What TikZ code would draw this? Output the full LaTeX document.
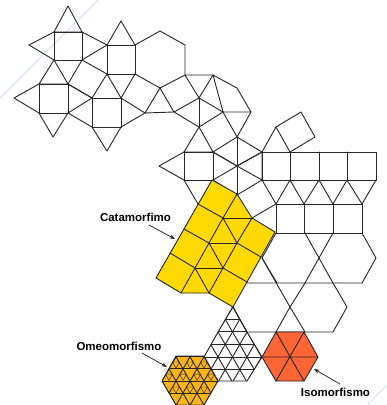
\documentclass[tikz,border=0pt]{standalone}
\usepackage{fontspec}
\setmainfont{Liberation Sans}
\usetikzlibrary{arrows.meta}
\definecolor{ink}{HTML}{262626}
\definecolor{cata}{HTML}{FFD900}
\definecolor{omeo}{HTML}{FDB515}
\definecolor{iso}{HTML}{FF6535}
\definecolor{faint}{HTML}{DCE8F6}
\tikzset{
  tile/.style={draw=ink,line width=.9pt,line join=round,line cap=round},
  fine/.style={draw=ink,line width=.45pt},
  label/.style={font=\bfseries\fontsize{11.5}{13}\selectfont,text=black,inner sep=0pt},
  pointer/.style={draw=ink,line width=.75pt,-{Stealth[length=5.5pt,width=4pt]}},
  streak/.style={draw=faint,line width=1.4pt}
}
% triangular lattice: centre x, centre y, spacing, range
\newcommand{\trilattice}[4]{%
  \pgfmathsetmacro{\hh}{#3*0.8660}
  \foreach \k in {-#4,...,#4}{
    \draw[tile] (#1-80,#2+\k*\hh) -- (#1+80,#2+\k*\hh);
    \draw[tile] (#1+\k*#3-50,#2+50*1.732) -- (#1+\k*#3+50,#2-50*1.732);
    \draw[tile] (#1+\k*#3-50,#2-50*1.732) -- (#1+\k*#3+50,#2+50*1.732);
  }}
% inner triangle of an upward triangle with apex (x,y)
\newcommand{\inner}[2]{\draw[fine] (#1-3.5,#2+6) -- (#1+3.5,#2+6) -- (#1,#2+12.1) -- cycle;}
\begin{document}
\begin{tikzpicture}[x=1pt,y=-1pt]
\useasboundingbox (0,0) rectangle (387,405);
\fill[white] (0,0) rectangle (387,405);
% faint streaks
\draw[streak] (98,0) -- (0,98);
\draw[streak] (387,385) -- (367,405);
% upper tiling
\draw[tile] (68,6) -- (54,32) -- (82,32) -- cycle;
\draw[tile] (54,32) rectangle (82,60);
\draw[tile] (54,32) -- (29,45) -- (54,60);
\draw[tile] (82,32) -- (107,45) -- (82,60);
\draw[tile] (107,45) rectangle (135,74);
\draw[tile] (107,45) -- (121,21) -- (135,45);
\draw[tile] (135,45) -- (160,31) -- (185,45) -- (185,75) -- (160,88) -- (135,74);
\draw[tile] (54,60) -- (39,84) -- (68,84) -- cycle;
\draw[tile] (68,84) -- (82,60) -- (107,74) -- (92,98) -- cycle;
\draw[tile] (39,84) rectangle (68,113);
\draw[tile] (39,84) -- (14,98) -- (39,113) -- (53,137) -- (68,113);
\draw[tile] (68,84) -- (92,98) -- (68,113) -- (92,127);
\draw[tile] (92,98) rectangle (121,127);
\draw[tile] (92,127) -- (107,151) -- (121,127);
\draw[tile] (107,74) -- (121,98) -- (135,74);
\draw[tile] (121,98) -- (145,113) -- (121,127);
\draw[tile] (145,113) -- (160,88) -- (174,112) -- cycle;
% middle
\draw[tile] (185,75) -- (213,75) -- (199,98) -- cycle;
\draw[tile] (174,112) -- (199,98) -- (223,112) -- (199,127) -- cycle;
\draw[tile] (199,98) -- (199,127);
\draw[tile] (213,75) -- (237,88) -- (251,112) -- (223,112) -- cycle;
\draw[tile] (223,112) -- (237,137) -- (251,112);
\draw[tile] (199,127) -- (184,152) -- (213,152) -- cycle;
\draw[tile] (184,152) rectangle (213,180);
\draw[tile] (184,152) -- (159,166) -- (184,180) -- (198,204);
\draw[tile] (213,152) -- (237,137) -- (262,152) -- (237,166) -- cycle;
\draw[tile] (237,137) -- (237,195);
\draw[tile] (213,180) -- (237,166) -- (262,152) -- (262,180) -- (237,166);
\draw[tile] (213,180) -- (237,195) -- (262,180);
\draw[tile] (213,152) -- (237,166);
% right block
\draw[tile] (262,152) -- (276,127) -- (290,152);
\draw[tile] (276,127) -- (301,112) -- (315,137) -- (290,152);
\draw[tile] (262,152) rectangle (376,180);
\draw[tile] (290,152) -- (290,180) (319,152) -- (319,180) (347,152) -- (347,180);
\draw[tile] (262,180) -- (276,204) -- (290,180) -- (304,204) -- (319,180) -- (333,204) -- (347,180) -- (362,204) -- (376,180);
\draw[tile] (276,204) rectangle (362,233);
\draw[tile] (304,204) -- (304,233) (333,204) -- (333,233);
\draw[tile] (252,218) -- (276,204);
% hexagons
\draw[tile] (276,233) -- (262,258) -- (277,283);
\draw[tile] (305,233) -- (319,258) -- (305,283) -- (290,307) -- (262,258);
\draw[tile] (333,233) -- (319,258) -- (333,283) -- (347,307) -- (333,332) -- (247,332) -- (233,307);
\draw[tile] (362,233) -- (376,258) -- (362,283) -- (247,283);
\draw[tile] (290,307) -- (276,332);
\draw[tile] (290,307) -- (305,332);
% catamorphism
\draw[tile,fill=cata] (212,180) -- (237,194) -- (252,218) -- (275,232) -- (233,307) -- (209,293) -- (181,293) -- (156,278) -- cycle;
\draw[tile] (237,194) -- (223,218) -- (209,243) -- (195,268) -- (181,293);
\draw[tile] (252,218) -- (237,243) -- (223,268) -- (209,293);
\draw[tile] (223,218) -- (252,218) (209,243) -- (237,243) (195,268) -- (223,268);
\draw[tile] (223,218) -- (237,243) (209,243) -- (223,268) (195,268) -- (209,293);
\draw[tile] (198,204) -- (223,218) (184,229) -- (209,243) (170,253) -- (195,268);
\draw[tile] (237,243) -- (261,257) (223,268) -- (247,282);
% isomorphism
\draw[tile,fill=iso] (276,332) -- (304,332) -- (318,357) -- (304,381) -- (276,381) -- (262,357) -- cycle;
\draw[tile] (276,332) -- (304,381) (304,332) -- (276,381) (262,357) -- (318,357);
% white triangular lattice
\begin{scope}
\clip (232,307) -- (247,332) -- (262,357) -- (247,381) -- (218,381) -- (204,357) -- (218,332) -- cycle;
\trilattice{232.5}{357}{14.5}{5}
\end{scope}
\draw[tile] (233,307) -- (247,332) -- (262,357) -- (247,381) -- (218,381) -- (204,357) -- (218,332) -- cycle;
% homeomorphism
\fill[omeo] (176,356) -- (204,356) -- (218,381) -- (204,405) -- (176,405) -- (162,381) -- cycle;
\begin{scope}
\clip (176,356) -- (204,356) -- (218,381) -- (204,405) -- (176,405) -- (162,381) -- cycle;
\trilattice{190}{381}{14}{5}
\end{scope}
\foreach \x in {176,190,204}{\inner{\x}{356}}
\foreach \x in {169,183,197,211}{\inner{\x}{368.2}}
\foreach \x in {176,190,204}{\inner{\x}{381}}
\draw[tile] (176,356) -- (204,356) -- (218,381) -- (204,405) -- (176,405) -- (162,381) -- cycle;
% labels
\node[label] (catalabel) at (135.5,217) {Catamorfimo};
\node[label] (omeolabel) at (119,346) {Omeomorfismo};
\node[label] (isolabel) at (335.5,392) {Isomorfismo};
\coordinate (catafrom) at (149,225);
\coordinate (catato) at (175,239);
\coordinate (omeofrom) at (142,353);
\coordinate (omeoto) at (167,367);
\coordinate (isofrom) at (340,384);
\coordinate (isoto) at (314,369);
\draw[pointer] (catafrom) -- (catato);
\draw[pointer] (omeofrom) -- (omeoto);
\draw[pointer] (isofrom) -- (isoto);
\end{tikzpicture}
\end{document}
